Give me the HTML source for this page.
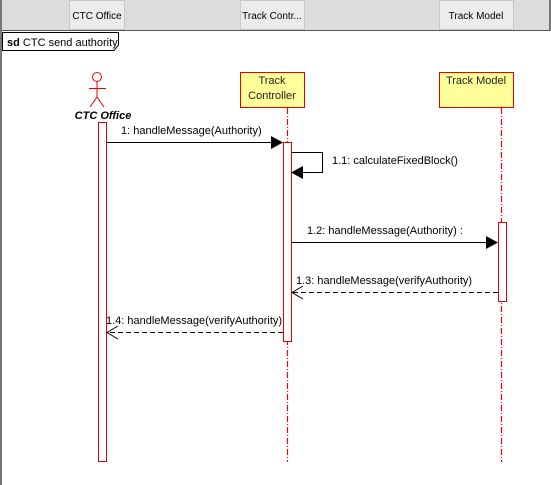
<!DOCTYPE html>
<html><head><style>
html,body{margin:0;padding:0;background:#fff;width:551px;height:485px;overflow:hidden}
</style></head><body>
<svg width="551" height="485" xmlns="http://www.w3.org/2000/svg" font-family="Liberation Sans, Arial, sans-serif" font-size="11">
<rect x="0" y="0" width="551" height="485" fill="#fff"/>
<rect x="0" y="0" width="551" height="31" fill="#dcdcdc"/>
<line x1="0" y1="30.5" x2="551" y2="30.5" stroke="#555" stroke-width="1"/>
<rect x="0" y="0" width="2" height="485" fill="#777"/>
<rect x="549" y="0" width="2" height="31" fill="#777"/>
<g fill="#ececec" stroke="#c8c8c8">
<rect x="69.5" y="0.5" width="55" height="29"/>
<rect x="240.5" y="0.5" width="64" height="29"/>
<rect x="439.5" y="0.5" width="74" height="29"/>
</g>
<g font-size="10" fill="#000" text-anchor="middle">
<text x="97" y="19">CTC Office</text>
<text x="272" y="19">Track Contr...</text>
<text x="476" y="19">Track Model</text>
</g>
<path d="M2.5 32.5 H118.5 V45 L114 50.5 H2.5 Z" fill="#fff" stroke="#000"/>
<text x="7" y="46" font-size="11"><tspan font-weight="bold">sd</tspan> CTC send authority</text>
<g stroke="#e00" fill="none" stroke-width="1">
<circle cx="97" cy="77" r="4.5"/>
<line x1="97" y1="81.5" x2="97" y2="97"/>
<line x1="89" y1="88.5" x2="106" y2="88.5"/>
<line x1="97" y1="97" x2="90" y2="107"/>
<line x1="97" y1="97" x2="104" y2="107"/>
</g>
<text x="103" y="119" text-anchor="middle" font-weight="bold" font-style="italic">CTC Office</text>
<rect x="240.5" y="72.5" width="64" height="35" fill="#ffff99" stroke="#e00"/>
<text x="272" y="84" text-anchor="middle" fill="#222">Track</text>
<text x="272" y="99" text-anchor="middle" fill="#222">Controller</text>
<rect x="439.5" y="72.5" width="74" height="35" fill="#ffff99" stroke="#e00"/>
<text x="476" y="84" text-anchor="middle" fill="#222">Track Model</text>
<line x1="287.5" y1="108" x2="287.5" y2="462" stroke="#f00" stroke-width="1.2" stroke-dasharray="6,2,1,2"/>
<line x1="501.5" y1="108" x2="501.5" y2="462" stroke="#f00" stroke-width="1.2" stroke-dasharray="6,2,1,2"/>
<rect x="98.5" y="122.5" width="8" height="339" fill="#fff" stroke="#e00"/>
<rect x="283.5" y="142.5" width="8" height="199" fill="#fff" stroke="#e00"/>
<rect x="498.5" y="222.5" width="8" height="79" fill="#fff" stroke="#e00"/>
<g stroke="#000" fill="none">
<line x1="107" y1="142.5" x2="272" y2="142.5"/>
<polyline points="292,152.5 322.5,152.5 322.5,172.5 303,172.5"/>
<line x1="292" y1="242.5" x2="487" y2="242.5"/>
<line x1="498" y1="292.5" x2="293" y2="292.5" stroke-dasharray="5,3"/>
<polyline points="303,286 292,292.5 303,299"/>
<line x1="283" y1="332.5" x2="108" y2="332.5" stroke-dasharray="5,3"/>
<polyline points="118,326 107,332.5 118,339"/>
</g>
<g fill="#000">
<polygon points="271,136 283,142.5 271,149"/>
<polygon points="303,166 291,172.5 303,179"/>
<polygon points="486,236 498,242.5 486,249"/>
</g>
<g font-size="11" fill="#000">
<text x="121" y="134">1: handleMessage(Authority)</text>
<text x="332" y="164">1.1: calculateFixedBlock()</text>
<text x="307" y="234">1.2: handleMessage(Authority) :</text>
<text x="296" y="284">1.3: handleMessage(verifyAuthority)</text>
<text x="106" y="324">1.4: handleMessage(verifyAuthority)</text>
</g>
</svg>
</body></html>
